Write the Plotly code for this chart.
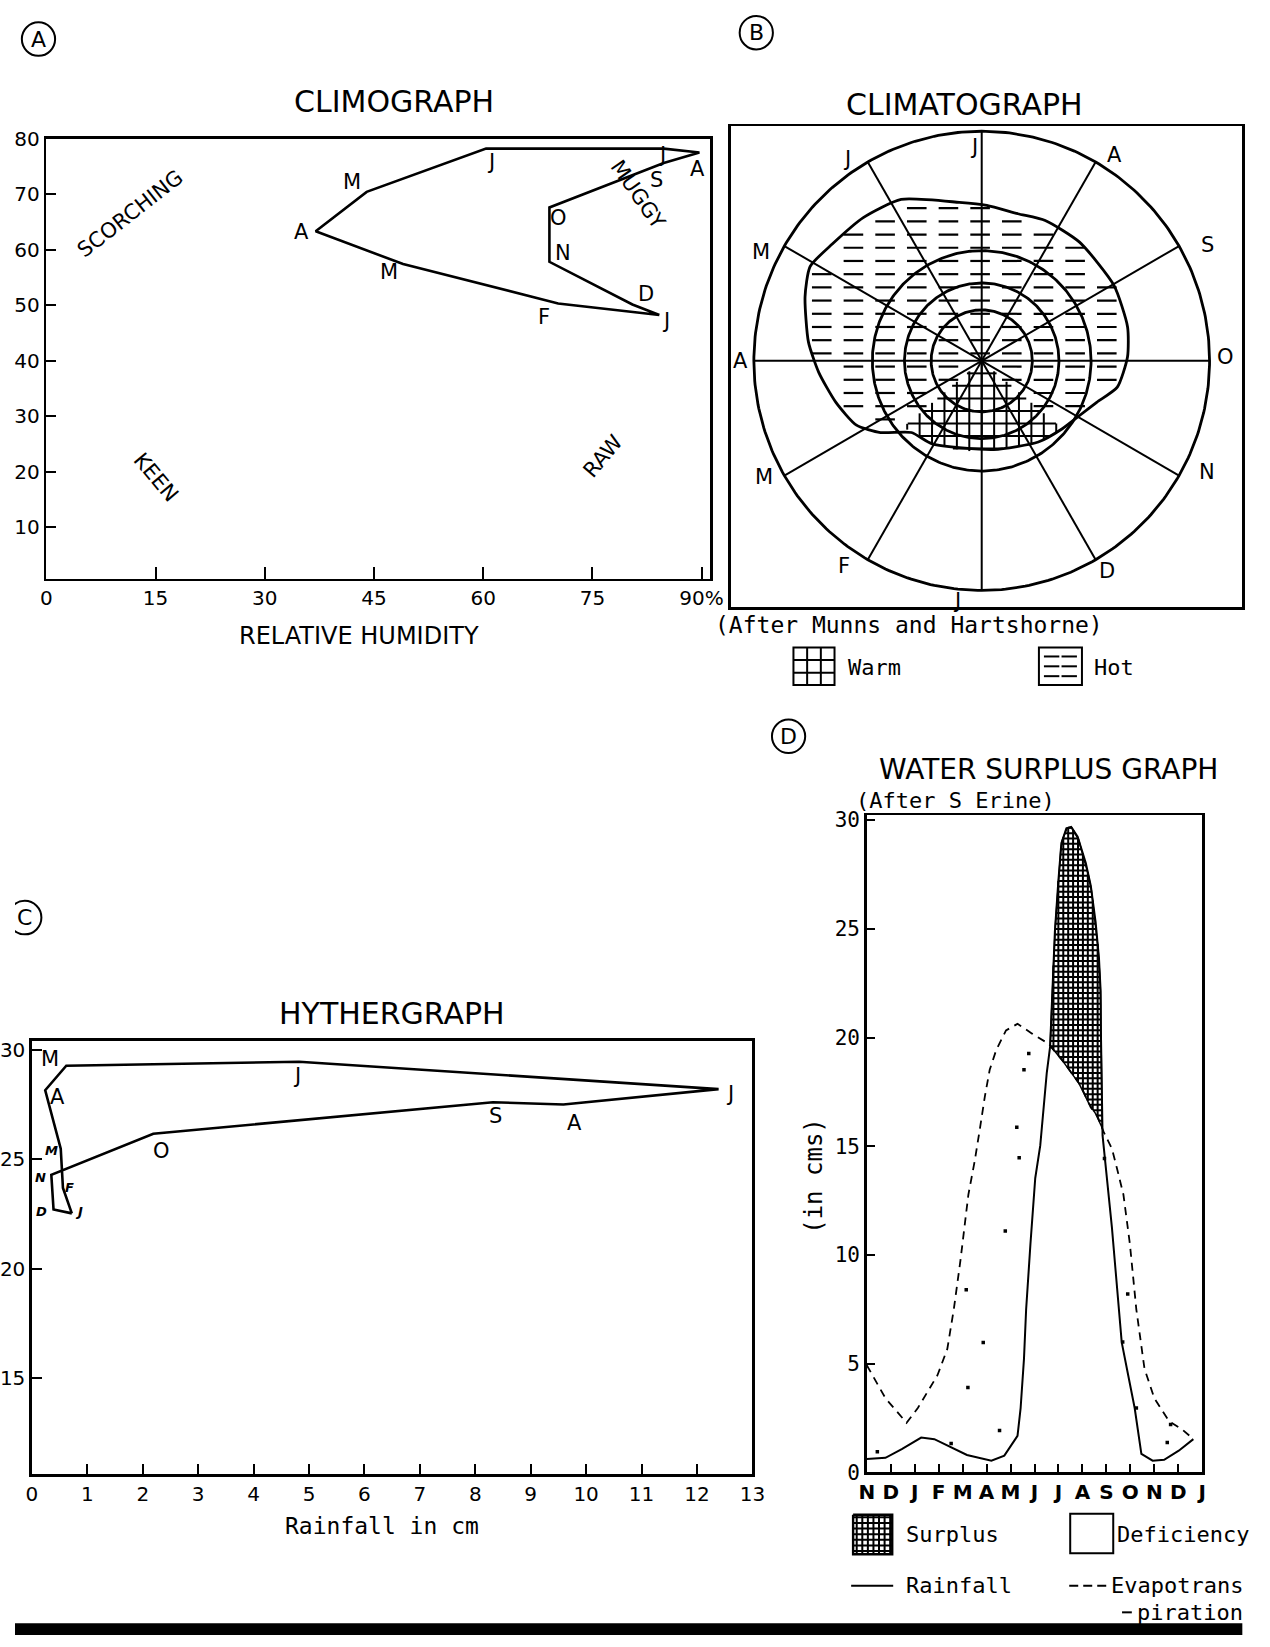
import numpy as np
import plotly.graph_objects as go

W, H = 1270, 1647
FONT = "DejaVu Sans"
MONO = "DejaVu Sans Mono"
INK = "black"

# ---------------------------------------------------------------- data
# (A) Climograph: relative humidity (%) vs temperature (deg F), Jan..Dec
clim_months = ["J", "F", "M", "A", "M", "J", "J", "A", "S", "O", "N", "D"]
clim_humidity = [84.2, 70.3, 49.0, 37.0, 44.0, 60.4, 84.8, 89.7, 84.8, 69.1, 69.1, 80.5]
clim_temperature = [48.2, 50.3, 57.4, 63.3, 70.4, 78.2, 78.2, 77.5, 75.6, 67.6, 57.8, 50.1]
clim_x_ticks = [0, 15, 30, 45, 60, 75, 90]
clim_x_ticktext = ["0", "15", "30", "45", "60", "75", "90%"]
clim_y_ticks = [10, 20, 30, 40, 50, 60, 70, 80]
clim_zones = ["SCORCHING", "MUGGY", "KEEN", "RAW"]

# (B) Climatograph: months on spokes, hot / warm zones (radius as fraction of outer ring)
cg_months = ["J", "F", "M", "A", "M", "J", "J", "A", "S", "O", "N", "D"]
cg_rings = [0.222, 0.339, 0.48, 1.0]
hot_theta = [116.7, 98.1, 88.1, 76.1, 65.5, 50.3, 29.6, 13.0, 1.5, -10.9, -19.7, -29.0,
             -39.9, -54.9, -82.2, -121.0, -134.7, -144.9, -153.0, -164.2, -176.0, 173.8,
             160.2, 151.4, 142.2, 129.8]
hot_r = [0.787, 0.697, 0.677, 0.660, 0.672, 0.672, 0.667, 0.657, 0.640, 0.606, 0.536, 0.491,
         0.461, 0.432, 0.390, 0.422, 0.439, 0.543, 0.617, 0.665, 0.717, 0.765,
         0.824, 0.858, 0.830, 0.812]
warm_theta = [-140.0, -130.0, -121.0, -100.0, -82.2, -65.0, -54.9, -39.9]
warm_r = [0.45, 0.43, 0.422, 0.40, 0.390, 0.41, 0.432, 0.461]

# (C) Hythergraph: rainfall (cm) vs temperature, Jan..Dec
hyth_months = ["J", "F", "M", "A", "M", "J", "J", "A", "S", "O", "N", "D"]
hyth_rain = [0.72, 0.56, 0.52, 0.24, 0.62, 4.82, 12.39, 9.59, 8.32, 2.19, 0.35, 0.39]
hyth_temp = [22.52, 23.68, 25.48, 28.15, 29.27, 29.45, 28.2, 27.5, 27.6, 26.16, 24.28, 22.7]
hyth_x_ticks = list(range(0, 14))
hyth_y_ticks = [15, 20, 25, 30]

# (D) Water surplus graph: month index (N=0 ... J=14) vs cm
wsg_month_labels = ["N", "D", "J", "F", "M", "A", "M", "J", "J", "A", "S", "O", "N", "D", "J"]
rain_x = [0.0, 0.78, 1.46, 2.27, 2.82, 3.5, 4.18, 5.2, 5.74, 6.29, 6.42, 6.56, 6.65, 6.83,
          7.03, 7.24, 7.37, 7.51, 7.65, 7.71, 7.78, 7.85, 7.99, 8.12, 8.33, 8.53, 8.8, 9.14,
          9.35, 9.55, 9.69, 9.76, 9.77, 9.8, 9.84, 10.23, 10.44, 10.64, 10.91, 11.18, 11.46,
          11.93, 12.41, 13.02, 13.63]
rain_y = [0.62, 0.67, 1.07, 1.6, 1.53, 1.15, 0.8, 0.54, 0.77, 1.68, 2.96, 5.22, 7.49, 10.51,
          13.53, 15.04, 16.55, 18.36, 19.57, 21.24, 23.05, 24.86, 27.13, 28.94, 29.62, 29.69,
          29.24, 28.03, 26.97, 25.31, 23.65, 22.14, 20.33, 17.0, 15.5, 11.27, 8.4, 5.98, 4.47,
          2.96, 0.85, 0.54, 0.58, 1.0, 1.53]
et_x = [0.0, 0.78, 1.66, 2.13, 2.95, 3.36, 3.63, 3.91, 4.24, 4.5, 4.72, 4.93, 5.13, 5.4,
        5.81, 6.29, 6.9, 7.58, 8.26, 8.94, 9.35, 9.62, 9.89, 10.23, 10.44, 10.71, 10.98,
        11.25, 11.59, 12.0, 12.61, 13.16, 13.63]
et_y = [4.93, 3.41, 2.28, 2.96, 4.47, 5.68, 7.49, 9.76, 12.78, 14.3, 15.8, 17.31, 18.52,
        19.42, 20.33, 20.63, 20.18, 19.72, 18.82, 17.76, 16.78, 16.4, 15.65, 14.89, 13.99,
        12.78, 10.51, 7.49, 4.77, 3.41, 2.36, 1.98, 1.53]
deficit_dot_x = [0.44, 3.52, 5.54, 4.22, 4.86, 4.15, 5.78, 6.36, 6.26, 6.56, 6.76, 9.92,
                 10.68, 10.89, 11.25, 12.54, 12.68]
deficit_dot_y = [0.95, 1.33, 1.93, 3.9, 5.98, 8.4, 11.1, 14.47, 15.87, 18.52, 19.27, 14.44,
                 6.0, 8.2, 2.96, 1.37, 2.2]
wsg_y_ticks = [0, 5, 10, 15, 20, 25, 30]


# ---------------------------------------------------------------- helpers
def xdom(a, b):
    return [a / W, b / W]


def ydom(top, bottom):
    return [1 - bottom / H, 1 - top / H]


def font(size, family=FONT, **kw):
    d = dict(family=family, size=size, color=INK)
    d.update(kw)
    return d


def frame_axis(**kw):
    d = dict(showline=True, mirror=True, linecolor=INK, linewidth=2.6, showgrid=False,
             zeroline=False, ticks="inside", tickcolor=INK, tickwidth=2, ticklen=10,
             tickfont=font(20), fixedrange=True)
    d.update(kw)
    return d


def page_text(text, x, y, size, angle=0, xanchor="center", family=FONT, **kw):
    return dict(text=text, x=x / W, y=1 - y / H, xref="paper", yref="paper",
                showarrow=False, font=font(size, family=family, **kw), textangle=angle,
                xanchor=xanchor, yanchor="middle")


def pol2xy(theta_deg, r):
    t = np.radians(np.asarray(theta_deg, float))
    r = np.asarray(r, float)
    return r * np.cos(t), r * np.sin(t)


def points_in_poly(px, py, vx, vy):
    inside = np.zeros(px.shape, bool)
    n = len(vx)
    j = n - 1
    for i in range(n):
        xi, yi, xj, yj = vx[i], vy[i], vx[j], vy[j]
        cond = ((yi > py) != (yj > py)) & (px < (xj - xi) * (py - yi) / (yj - yi + 1e-12) + xi)
        inside ^= cond
        j = i
    return inside


def grid_lines_in_poly(vx, vy, step_x, step_y):
    """Vertical and horizontal hatch lines clipped to a polygon (None-separated)."""
    vx = np.asarray(vx, float)
    vy = np.asarray(vy, float)
    ax, bx_ = vx, np.roll(vx, -1)
    ay, by_ = vy, np.roll(vy, -1)
    lx, ly = [], []
    for vertical, step in ((True, step_x), (False, step_y)):
        a0, b0 = (ax, bx_) if vertical else (ay, by_)
        a1, b1 = (ay, by_) if vertical else (ax, bx_)
        lo, hi = a0.min(), a0.max()
        for c in np.arange(np.floor(lo / step) * step + step, hi, step):
            hit = (a0 - c) * (b0 - c) < 0
            t = (c - a0[hit]) / (b0[hit] - a0[hit])
            cuts = np.sort(a1[hit] + t * (b1[hit] - a1[hit]))
            for s in range(0, len(cuts) - 1, 2):
                if vertical:
                    lx += [c, c, None]
                    ly += [cuts[s], cuts[s + 1], None]
                else:
                    lx += [cuts[s], cuts[s + 1], None]
                    ly += [c, c, None]
    return lx, ly


fig = go.Figure()
annotations = []
shapes = []

# ---------------------------------------------------------------- (A) Climograph
fig.add_trace(go.Scatter(
    x=clim_humidity + clim_humidity[:1], y=clim_temperature + clim_temperature[:1],
    mode="lines", line=dict(color=INK, width=2.6), xaxis="x", yaxis="y",
    showlegend=False, hoverinfo="skip"))
clim_label_offsets = [(7, 6), (-14, 14), (-14, 8), (-14, 1), (-15, -10), (5, 13),
                      (-2, 6), (-2, 17), (-7, 17), (9, 11), (14, -9), (14, -11)]
for m, xv, yv, (dx, dy) in zip(clim_months, clim_humidity, clim_temperature, clim_label_offsets):
    annotations.append(dict(text=m, x=xv, y=yv, xref="x", yref="y", xshift=dx, yshift=-dy,
                            showarrow=False, font=font(21)))
zone_pos = [(11.5, 66.4, -38), (81.2, 70.0, 55), (15.0, 19.0, 50), (76.5, 22.8, -50)]
for name, (zx, zy, ang) in zip(clim_zones, zone_pos):
    annotations.append(dict(text=name, x=zx, y=zy, xref="x", yref="y", showarrow=False,
                            font=font(21), textangle=ang))

# ---------------------------------------------------------------- (B) Climatograph
hx, hy = pol2xy(hot_theta, hot_r)
wx, wy = pol2xy(warm_theta, warm_r)
wedge_x = np.concatenate([[0.0], wx])
wedge_y = np.concatenate([[0.0], wy])

# hot zone: short horizontal dashes on a regular grid clipped to the zone
gx, gy = np.meshgrid(np.arange(-0.98, 1.0, 0.139), np.arange(-0.6, 0.9, 0.0575))
gx, gy = gx.ravel(), gy.ravel()
half = 0.03
keep = (points_in_poly(gx - half, gy, hx, hy) & points_in_poly(gx + half, gy, hx, hy)
        & ~points_in_poly(gx, gy, wedge_x, wedge_y)
        & ~points_in_poly(gx - half, gy, wedge_x, wedge_y)
        & ~points_in_poly(gx + half, gy, wedge_x, wedge_y))
fig.add_trace(go.Scatter(
    x=gx[keep], y=gy[keep], mode="markers", xaxis="x2", yaxis="y2",
    marker=dict(symbol="line-ew", size=14, line=dict(color=INK, width=2.2)),
    showlegend=False, hoverinfo="skip"))
# warm zone: square grid
wgx, wgy = grid_lines_in_poly(wedge_x, wedge_y, 0.0545, 0.0545)
fig.add_trace(go.Scatter(x=wgx, y=wgy, mode="lines", line=dict(color=INK, width=2),
                         xaxis="x2", yaxis="y2", showlegend=False, hoverinfo="skip"))
# rings
tt = np.linspace(0, 360, 361)
for rv in cg_rings:
    cx, cy = pol2xy(tt, np.full_like(tt, rv))
    fig.add_trace(go.Scatter(x=cx, y=cy, mode="lines", line=dict(color=INK, width=2.8),
                             xaxis="x2", yaxis="y2", showlegend=False, hoverinfo="skip"))
# spokes (Jan at the bottom, Jul at the top)
cg_angles = [(-90 - 30 * i + 180) % 360 - 180 for i in range(12)]
sx, sy = [], []
for a in cg_angles:
    ex, ey = pol2xy([a], [1.0])
    sx += [0.0, ex[0], None]
    sy += [0.0, ey[0], None]
fig.add_trace(go.Scatter(x=sx, y=sy, mode="lines", line=dict(color=INK, width=2),
                         xaxis="x2", yaxis="y2", showlegend=False, hoverinfo="skip"))
# hot zone outline
fig.add_trace(go.Scatter(
    x=np.append(hx, hx[0]), y=np.append(hy, hy[0]), mode="lines",
    line=dict(color=INK, width=2.8, shape="spline", smoothing=0.6),
    xaxis="x2", yaxis="y2", showlegend=False, hoverinfo="skip"))
cg_label_r = [1.05, 1.08, 1.08, 1.06, 1.08, 1.06, 0.93, 1.07, 1.11, 1.07, 1.10, 1.07]
cg_label_nudge = [-6, -4, -2, 0, 4, 4, 2, -3, -3, 1, 4, 1]
for m, a, rr, nd in zip(cg_months, cg_angles, cg_label_r, cg_label_nudge):
    lx, ly = pol2xy([a + nd], [rr])
    annotations.append(dict(text=m, x=lx[0], y=ly[0], xref="x2", yref="y2",
                            showarrow=False, font=font(21)))

# ---------------------------------------------------------------- (C) Hythergraph
fig.add_trace(go.Scatter(
    x=hyth_rain + hyth_rain[:1], y=hyth_temp + hyth_temp[:1], mode="lines",
    line=dict(color=INK, width=2.6), xaxis="x3", yaxis="y3",
    showlegend=False, hoverinfo="skip"))
hyth_label_style = [((7, -2), 13), ((7, -1), 13), ((-9, 2), 13), ((12, 7), 21), ((-16, -7), 21),
                    ((-2, 14), 21), ((11, 5), 21), ((11, 19), 21), ((2, 14), 21),
                    ((8, 17), 21), ((-11, 3), 13), ((-12, 2), 13)]
for m, xv, yv, ((dx, dy), fs) in zip(hyth_months, hyth_rain, hyth_temp, hyth_label_style):
    small = fs < 16
    annotations.append(dict(text=m, x=xv, y=yv, xref="x3", yref="y3", xshift=dx, yshift=-dy,
                            showarrow=False,
                            font=font(fs, weight="bold" if small else "normal",
                                      style="italic" if small else "normal")))

# ---------------------------------------------------------------- (D) Water surplus graph
xf = np.linspace(min(rain_x), max(rain_x), 6001)
rf = np.interp(xf, rain_x, rain_y)
ef = np.interp(xf, et_x, et_y)
mask = (rf > ef) & (xf > 7) & (xf < 10.5)
sxp = xf[mask]
sur_x = np.concatenate([sxp, sxp[::-1]])
sur_y = np.concatenate([rf[mask], ef[mask][::-1]])
fig.add_trace(go.Scatter(
    x=sur_x, y=sur_y, mode="lines", fill="toself", fillcolor="white",
    line=dict(width=1.5, color=INK), xaxis="x4", yaxis="y4",
    showlegend=False, hoverinfo="skip"))
# dense square hatching (about 5 px cells)
sgx, sgy = grid_lines_in_poly(sur_x, sur_y, 0.205, 0.245)
fig.add_trace(go.Scatter(x=sgx, y=sgy, mode="lines", line=dict(color=INK, width=2),
                         xaxis="x4", yaxis="y4", showlegend=False, hoverinfo="skip"))
fig.add_trace(go.Scatter(x=et_x, y=et_y, mode="lines",
                         line=dict(color=INK, width=1.8, dash="8px,6px"),
                         xaxis="x4", yaxis="y4", showlegend=False, hoverinfo="skip"))
fig.add_trace(go.Scatter(x=rain_x, y=rain_y, mode="lines",
                         line=dict(color=INK, width=2),
                         xaxis="x4", yaxis="y4", showlegend=False, hoverinfo="skip"))
fig.add_trace(go.Scatter(x=deficit_dot_x, y=deficit_dot_y, mode="markers",
                         marker=dict(symbol="square", size=3.5, color=INK),
                         xaxis="x4", yaxis="y4", showlegend=False, hoverinfo="skip"))

# ---------------------------------------------------------------- legend glyphs (page pixels)
bx = [857, 897, 897, 857, 857]
by = [1525, 1525, 1565, 1565, 1525]
lgx, lgy = grid_lines_in_poly(bx[:-1], by[:-1], 5.7, 5.7)
fig.add_trace(go.Scatter(x=lgx, y=lgy, mode="lines", line=dict(color=INK, width=2),
                         xaxis="x5", yaxis="y5", showlegend=False, hoverinfo="skip"))
fig.add_trace(go.Scatter(x=bx, y=by, mode="lines", line=dict(color=INK, width=2.4),
                         xaxis="x5", yaxis="y5", showlegend=False, hoverinfo="skip"))
hdx, hdy = [], []
for yy in (654, 664, 674):
    for xx in (1060, 1078):
        hdx.append(xx)
        hdy.append(yy)
fig.add_trace(go.Scatter(
    x=hdx, y=hdy, mode="markers", xaxis="x5", yaxis="y5",
    marker=dict(symbol="line-ew", size=11, line=dict(color=INK, width=2)),
    showlegend=False, hoverinfo="skip"))

shapes.append(dict(type="rect", xref="x5", yref="y5", x0=796, x1=838, y0=645, y1=683,
                   line=dict(color=INK, width=2)))
for k in (1, 2):
    xx = 796 + k * 14
    shapes.append(dict(type="line", xref="x5", yref="y5", x0=xx, x1=xx, y0=645, y1=683,
                       line=dict(color=INK, width=2)))
    yy = 645 + k * 12.7
    shapes.append(dict(type="line", xref="x5", yref="y5", x0=796, x1=838, y0=yy, y1=yy,
                       line=dict(color=INK, width=2)))
shapes.append(dict(type="rect", xref="x5", yref="y5", x0=1047, x1=1091, y0=645, y1=683,
                   line=dict(color=INK, width=2)))
shapes.append(dict(type="rect", xref="x5", yref="y5", x0=1079, x1=1123, y0=1524, y1=1564,
                   line=dict(color=INK, width=2)))
shapes.append(dict(type="line", xref="x5", yref="y5", x0=855, x1=898, y0=1597, y1=1597,
                   line=dict(color=INK, width=2)))
shapes.append(dict(type="line", xref="x5", yref="y5", x0=1078, x1=1118, y0=1597, y1=1597,
                   line=dict(color=INK, width=2, dash="9px,5px")))
shapes.append(dict(type="line", xref="x5", yref="y5", x0=1132, x1=1142, y0=1624, y1=1624,
                   line=dict(color=INK, width=2)))
for letter, cx, cy in (("A", 24, 27.5), ("B", 758, 21), ("C", 10, 919), ("D", 791, 735)):
    shapes.append(dict(type="circle", xref="x5", yref="y5", x0=cx - 17, x1=cx + 17,
                       y0=cy - 17, y1=cy + 17, line=dict(color=INK, width=2)))
    annotations.append(dict(text=letter, x=cx, y=cy, xref="x5", yref="y5",
                            showarrow=False, font=font(22)))
shapes.append(dict(type="rect", xref="paper", yref="paper", x0=0, x1=1255 / W, y0=0,
                   y1=12 / H, line=dict(width=0), fillcolor=INK))

# ---------------------------------------------------------------- page texts
annotations += [
    page_text("CLIMOGRAPH", 388, 91, 30),
    page_text("RELATIVE HUMIDITY", 352, 633, 24),
    page_text("CLIMATOGRAPH", 971, 94, 30),
    page_text("(After Munns and Hartshorne)", 914, 622, 23, family=MONO),
    page_text("Warm", 850, 665, 22, xanchor="left", family=MONO),
    page_text("Hot", 1101, 665, 22, xanchor="left", family=MONO),
    page_text("HYTHERGRAPH", 386, 1016, 30),
    page_text("Rainfall in cm", 375, 1536, 23, family=MONO),
    page_text("WATER SURPLUS GRAPH", 1057, 769, 28),
    page_text("(After S Erine)", 962, 800, 22, family=MONO),
    page_text("(in cms)", 817, 1181, 24, angle=-90, family=MONO),
    page_text("Surplus", 909, 1545, 22, xanchor="left", family=MONO),
    page_text("Deficiency", 1125, 1545, 22, xanchor="left", family=MONO),
    page_text("Rainfall", 909, 1597, 22, xanchor="left", family=MONO),
    page_text("Evapotrans", 1119, 1597, 22, xanchor="left", family=MONO),
    page_text("piration", 1145, 1624, 22, xanchor="left", family=MONO),
]

# ---------------------------------------------------------------- layout
fig.update_layout(
    width=W, height=H, margin=dict(l=0, r=0, t=0, b=0),
    paper_bgcolor="white", plot_bgcolor="rgba(0,0,0,0)",
    showlegend=False, font=font(20), hovermode=False,
    xaxis=frame_axis(domain=xdom(32, 711), range=[0, 91.2], tickvals=clim_x_ticks,
                     ticktext=clim_x_ticktext, ticklen=12, anchor="y"),
    yaxis=frame_axis(domain=ydom(128.5, 575), range=[0.7, 80.0], tickvals=clim_y_ticks,
                     anchor="x"),
    xaxis2=frame_axis(domain=xdom(732, 1255), range=[-1.1009, 1.1438], ticks="",
                      showticklabels=False, anchor="y2"),
    yaxis2=frame_axis(domain=ydom(116, 604), range=[-1.0730, 1.0215], ticks="",
                      showticklabels=False, anchor="x2"),
    xaxis3=frame_axis(domain=xdom(17.3, 754), range=[0, 13], tickvals=hyth_x_ticks,
                      ticktext=[str(v) for v in hyth_x_ticks], anchor="y3"),
    yaxis3=frame_axis(domain=ydom(1044, 1484), range=[10.59, 30.41], tickvals=hyth_y_ticks,
                      anchor="x3"),
    xaxis4=frame_axis(domain=xdom(871, 1214), range=[0, 14],
                      tickvals=list(range(len(wsg_month_labels))), ticktext=wsg_month_labels,
                      ticklen=8, tickfont=font(20, weight="bold"), anchor="y4"),
    yaxis4=frame_axis(domain=ydom(815, 1482), range=[0, 30.23], tickvals=wsg_y_ticks,
                      ticklen=8, tickfont=font(21, family=MONO), anchor="x4"),
    xaxis5=dict(domain=[0, 1], range=[0, W], visible=False, fixedrange=True, anchor="y5"),
    yaxis5=dict(domain=[0, 1], range=[H, 0], visible=False, fixedrange=True, anchor="x5"),
    annotations=annotations, shapes=shapes,
)

fig.write_html("out.html", config={"displayModeBar": False, "staticPlot": True},
               post_script="document.body.style.margin='0px';")
